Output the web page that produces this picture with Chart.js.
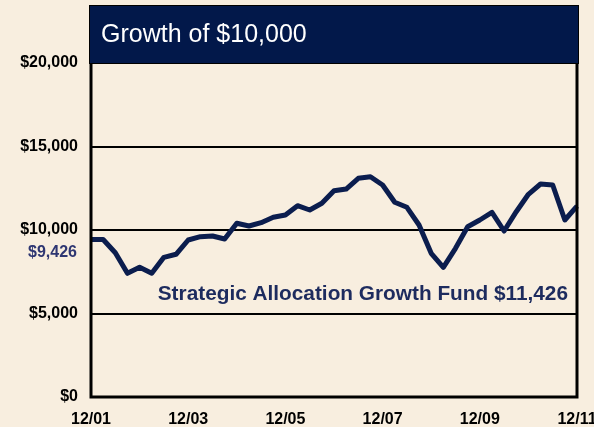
<!DOCTYPE html>
<html>
<head>
<meta charset="utf-8">
<script src="https://cdn.jsdelivr.net/npm/chart.js@4.4.1/dist/chart.umd.min.js"></script>
<style>
  html, body { margin: 0; padding: 0; background: #F8EEDF; overflow: hidden; width: 594px; height: 427px; }
  canvas { display: block; }
</style>
</head>
<body>
<canvas id="c" width="620" height="427"></canvas>
<script>
// Quarter-end dates, 12/01 .. 12/11
const quarters = [
  '12/01','3/02','6/02','9/02','12/02','3/03','6/03','9/03','12/03',
  '3/04','6/04','9/04','12/04','3/05','6/05','9/05','12/05',
  '3/06','6/06','9/06','12/06','3/07','6/07','9/07','12/07',
  '3/08','6/08','9/08','12/08','3/09','6/09','9/09','12/09',
  '3/10','6/10','9/10','12/10','3/11','6/11','9/11','12/11'
];
// Value of a $10,000 investment (after sales charge)
const fundValues = [
  9426, 9430, 8641, 7407, 7766, 7407, 8365, 8545, 9401,
  9599, 9641, 9461, 10401, 10240, 10437, 10760, 10898,
  11455, 11198, 11599, 12353, 12455, 13096, 13192, 12695,
  11659, 11359, 10299, 8605, 7766, 8904, 10198, 10599,
  11060, 9940, 11096, 12138, 12754, 12695, 10599, 11426
];
const xTickLabels = ['12/01','12/03','12/05','12/07','12/09','12/11'];
const yTicks = [0, 5000, 10000, 15000, 20000];
const titleText = 'Growth of $10,000';
const startLabel = '$9,426';
const fundLabel = 'Strategic Allocation Growth Fund $11,426';

const BG = '#F8EEDF';
const NAVY = '#02184A';
const LINE = '#0B1D4E';

const fmt = v => '$' + v.toLocaleString('en-US');

const decor = {
  id: 'decor',
  beforeDraw(chart) {
    const ctx = chart.ctx;
    ctx.save();
    ctx.fillStyle = BG;
    ctx.fillRect(0, 0, chart.width, chart.height);
    ctx.restore();
  },
  afterDatasetsDraw(chart) {
    const ctx = chart.ctx, a = chart.chartArea;
    ctx.save();
    ctx.strokeStyle = '#000';
    ctx.lineWidth = 3;
    ctx.beginPath();
    ctx.moveTo(a.left, a.top);
    ctx.lineTo(a.left, a.bottom);
    ctx.lineTo(a.right, a.bottom);
    ctx.lineTo(a.right, a.top);
    ctx.stroke();
    // title box
    ctx.fillStyle = NAVY;
    ctx.fillRect(a.left - 1, 5, a.right - a.left + 2, a.top - 5);
    ctx.strokeStyle = '#000';
    ctx.lineWidth = 1;
    ctx.strokeRect(a.left - 1.5, 5.5, a.right - a.left + 3, a.top - 5);
    ctx.fillStyle = '#FFFFFF';
    ctx.font = '25px "Liberation Sans", Arial, sans-serif';
    ctx.textAlign = 'left';
    ctx.textBaseline = 'middle';
    ctx.fillText(titleText, a.left + 10, 35);
    // start value label
    const ys = chart.scales.y;
    ctx.fillStyle = '#2E3672';
    ctx.font = 'bold 16px "Liberation Sans", Arial, sans-serif';
    ctx.textAlign = 'right';
    ctx.fillText(startLabel, 77, ys.getPixelForValue(fundValues[0]) + 13);
    // fund label
    ctx.fillStyle = '#1D2B5E';
    ctx.font = 'bold 20.8px "Liberation Sans", Arial, sans-serif';
    ctx.textAlign = 'right';
    ctx.fillText(fundLabel, a.right - 9, ys.getPixelForValue(6150));
    ctx.restore();
  }
};

new Chart(document.getElementById('c'), {
  type: 'line',
  data: {
    labels: quarters,
    datasets: [{
      data: fundValues,
      borderColor: LINE,
      borderWidth: 5,
      pointRadius: 0,
      tension: 0,
      borderJoinStyle: 'round',
      borderCapStyle: 'butt',
      fill: false
    }]
  },
  options: {
    responsive: false,
    animation: false,
    devicePixelRatio: 1,
    layout: { padding: { top: 63, right: 43, left: 0, bottom: 0 } },
    plugins: { legend: { display: false }, tooltip: { enabled: false }, title: { display: false } },
    scales: {
      x: {
        offset: false,
        grid: { display: false, drawTicks: false },
        border: { display: false },
        afterFit(s) { s.height = 30; },
        ticks: {
          autoSkip: false,
          maxRotation: 0,
          padding: 13,
          color: '#000',
          font: { family: '"Liberation Sans", Arial, sans-serif', size: 16, weight: 'bold' },
          callback(v, i) { return xTickLabels.includes(quarters[i]) ? quarters[i] : ''; }
        }
      },
      y: {
        min: 0, max: 20000,
        afterFit(s) { s.width = 91; },
        afterBuildTicks(s) { s.ticks = yTicks.map(v => ({ value: v })); },
        grid: { color: '#000', lineWidth: 2, drawTicks: false },
        border: { display: false },
        ticks: {
          padding: 13,
          color: '#000',
          font: { family: '"Liberation Sans", Arial, sans-serif', size: 16, weight: 'bold' },
          callback: v => fmt(v)
        }
      }
    }
  },
  plugins: [decor]
});
</script>
</body>
</html>
